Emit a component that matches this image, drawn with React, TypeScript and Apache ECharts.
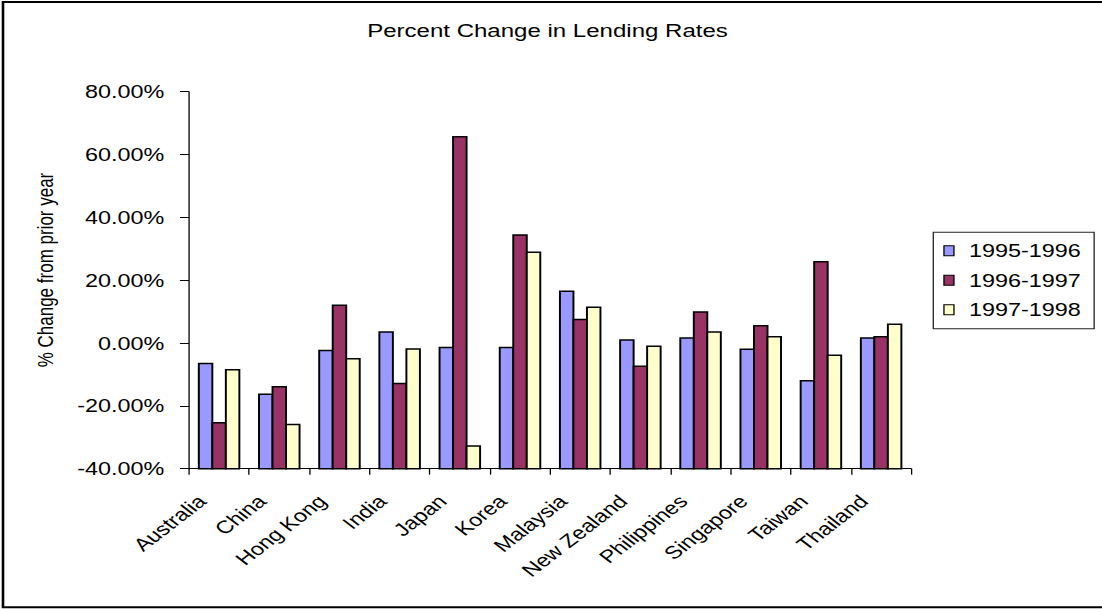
import { useEffect, useRef } from 'react';
import * as echarts from 'echarts';

const TITLE = 'Percent Change in Lending Rates';
const Y_NAME = '% Change from prior year';
const CATEGORIES = ['Australia', 'China', 'Hong Kong', 'India', 'Japan', 'Korea', 'Malaysia', 'New Zealand', 'Philippines', 'Singapore', 'Taiwan', 'Thailand'];
const SERIES_NAMES = ['1995-1996', '1996-1997', '1997-1998'];
const S_1995_1996 = [-6.5, -16.3, -2.4, 3.5, -1.4, -1.4, 16.5, 1.0, 1.6, -2.0, -12.0, 1.6];
const S_1996_1997 = [-25.4, -13.9, 12.0, -12.9, 65.7, 34.4, 7.5, -7.4, 9.9, 5.5, 25.9, 2.0];
const S_1997_1998 = [-8.5, -25.9, -5.0, -1.9, -32.8, 28.9, 11.4, -1.0, 3.5, 2.0, -3.9, 6.0];
const SERIES_VALUES = [S_1995_1996, S_1996_1997, S_1997_1998];
const COLORS = ['#9999FF', '#993366', '#FFFFCC'];
const Y_MIN = -40;
const Y_MAX = 80;
const Y_STEP = 20;

const W = 1102;
const H = 609;
const CW = 848;
const K = W / CW;
const sx = (x: number) => x / K;
const FONT = 'Liberation Sans, Arial, sans-serif';

export default function App() {
  const ref = useRef<HTMLDivElement>(null);
  useEffect(() => {
    const chart = echarts.init(ref.current!, null, { renderer: 'svg' });
    const BAR_FRAC = 0.2245;
    const series = SERIES_NAMES.map((name, s) => ({
      type: 'custom',
      name,
      data: SERIES_VALUES[s].map((v, i) => [i, v]),
      encode: { x: 0, y: 1 },
      itemStyle: { color: COLORS[s], borderColor: '#000', borderWidth: 1.5 },
      renderItem: (_params: any, api: any) => {
        const i = api.value(0);
        const v = api.value(1);
        const top = api.coord([i, v]);
        const base = api.coord([i, Y_MIN]);
        const band = api.size([1, 0])[0];
        const bw = band * BAR_FRAC;
        return {
          type: 'rect',
          shape: { x: top[0] + (s - 1.5) * bw, y: top[1], width: bw, height: base[1] - top[1] },
          style: { fill: COLORS[s], stroke: '#000', lineWidth: 1.5 },
        };
      },
    }));
    chart.setOption({
      animation: false,
      backgroundColor: '#fff',
      grid: { left: sx(189), right: CW - sx(911.2), top: 91.7, bottom: H - 468.7, containLabel: false },
      xAxis: {
        type: 'category',
        data: CATEGORIES,
        boundaryGap: true,
        axisLine: { onZero: false, lineStyle: { color: '#000', width: 1 } },
        axisTick: { show: true, length: 6, lineStyle: { color: '#000' } },
        axisLabel: {
          rotate: 45,
          interval: 0,
          margin: 16,
          padding: [0, 19, 0, 0],
          color: '#000',
          fontSize: 18,
          fontFamily: FONT,
        },
        splitLine: { show: false },
      },
      yAxis: {
        type: 'value',
        min: Y_MIN,
        max: Y_MAX,
        interval: Y_STEP,
        axisLine: { show: true, lineStyle: { color: '#000', width: 1 } },
        axisTick: { show: true, length: 7, lineStyle: { color: '#000' } },
        axisLabel: {
          margin: 19,
          color: '#000',
          fontSize: 18,
          fontFamily: FONT,
          formatter: (v: number) => v.toFixed(2) + '%',
        },
        splitLine: { show: false },
      },
      legend: {
        orient: 'vertical',
        left: sx(933.3),
        top: 232.3,
        padding: [9.4, 10.3, 10, 7.7],
        itemGap: 11.5,
        itemWidth: sx(10),
        itemHeight: 10,
        icon: 'rect',
        borderColor: '#222',
        borderWidth: 1,
        itemStyle: { borderColor: '#000', borderWidth: 1 },
        textStyle: { color: '#000', fontSize: 18, fontFamily: FONT, lineHeight: 18, padding: [0, 0, 0, 6.5] },
        data: SERIES_NAMES,
      },
      graphic: [
        {
          type: 'rect',
          silent: true,
          shape: { x: sx(3), y: 1.9, width: CW + 20, height: 605.3 },
          style: { fill: 'none', stroke: '#000', lineWidth: 2 },
        },
        {
          type: 'text',
          x: sx(547.5),
          y: 31,
          style: {
            text: TITLE,
            fontSize: 18.5,
            fontFamily: FONT,
            fill: '#000',
            align: 'center',
            verticalAlign: 'middle',
            textAlign: 'center',
            textVerticalAlign: 'middle',
          },
        },
        {
          type: 'text',
          x: sx(45.6),
          y: 270,
          rotation: Math.PI / 2,
          style: {
            text: Y_NAME,
            fontSize: 17,
            fontFamily: FONT,
            fill: '#000',
            align: 'center',
            verticalAlign: 'middle',
            textAlign: 'center',
            textVerticalAlign: 'middle',
          },
        },
      ],
      series,
    });
    return () => chart.dispose();
  }, []);
  return (
    <div style={{ position: 'fixed', left: 0, top: 0, width: W, height: H, overflow: 'hidden', background: '#fff' }}>
      <div ref={ref} style={{ width: CW, height: H, transform: `scaleX(${K})`, transformOrigin: '0 0' }} />
    </div>
  );
}
